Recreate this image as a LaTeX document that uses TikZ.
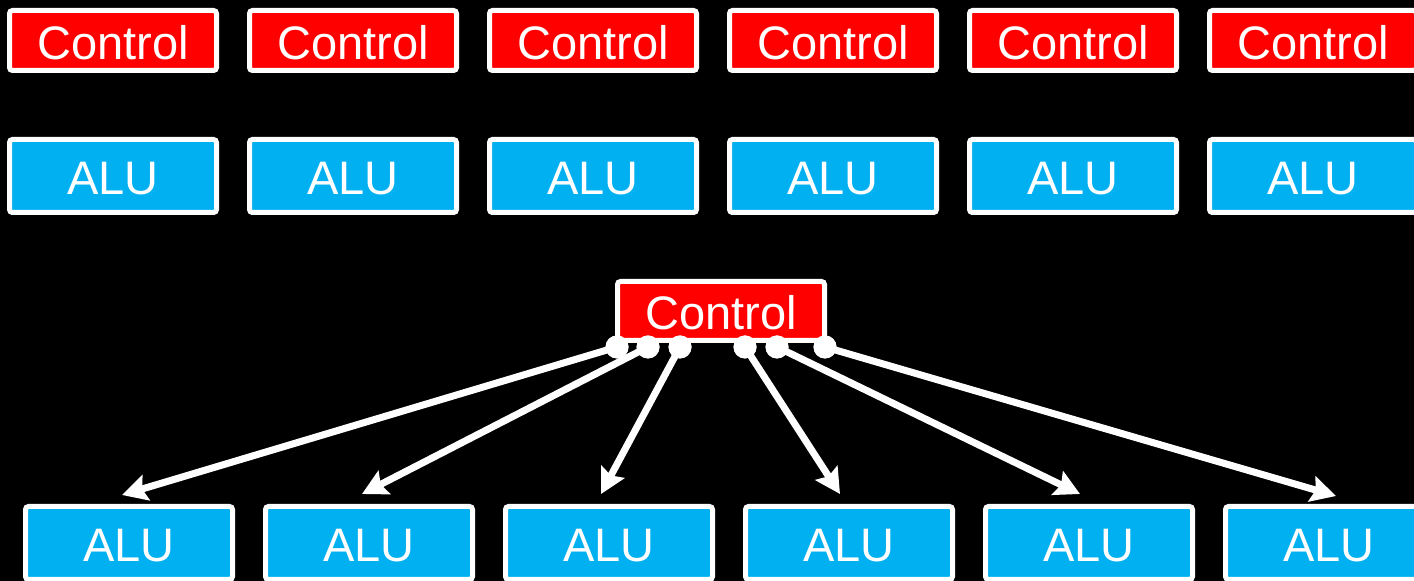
\documentclass[tikz,border=0pt]{standalone}
\usepackage{fontspec}
\setmainfont{Liberation Sans}
\usetikzlibrary{calc,arrows.meta}
\definecolor{ctrlred}{RGB}{255,0,0}
\definecolor{alublue}{RGB}{0,176,240}
\tikzset{
  unit/.style={rectangle, draw=white, line width=2.5pt, rounded corners=1.5pt,
    minimum width=103.5pt, text=white, inner sep=0pt, text height=19pt,
    font=\fontsize{23.5}{28}\selectfont},
  ctrlbox/.style={unit, fill=ctrlred, minimum height=30pt},
  alubox/.style={unit, fill=alublue, minimum height=36.5pt},
  port/.style={circle, fill=white, minimum size=11.5pt, inner sep=0pt},
  link/.style={draw=white, line width=3.5pt,
    -{Stealth[length=12.5pt,width=13pt,inset=2pt]}}
}
\begin{document}
\begin{tikzpicture}[x=0.5pt,y=-0.5pt]
  \fill[black] (0,0) rectangle (1414,581);
  \useasboundingbox (0,0) rectangle (1414,581);

  % independent control/ALU pairs
  \foreach \i in {1,...,6}{
    \node[ctrlbox] (c\i) at ({113+240*(\i-1)},40.5) {Control};
    \node[alubox]  (a\i) at ({113+240*(\i-1)},176) {ALU};
  }

  % shared control with its ALU array
  \node[ctrlbox, minimum height=29.5pt] (sc) at (721,311) {Control};
  \foreach \i in {1,...,6}{
    \node[alubox] (b\i) at ({129+240*(\i-1)},543) {ALU};
  }

  % ports on the shared control
  \node[port] (d1) at (617,347) {};
  \node[port] (d2) at (648,347) {};
  \node[port] (d3) at (680,347) {};
  \node[port] (d4) at (745,347) {};
  \node[port] (d5) at (777,347) {};
  \node[port] (d6) at (825,347) {};

  % arrow targets just above each ALU
  \coordinate (t1) at ($(b1.north)+(-7,-9)$);
  \coordinate (t2) at ($(b2.north)+(-7,-10)$);
  \coordinate (t3) at ($(b3.north)+(-8,-10)$);
  \coordinate (t4) at ($(b4.north)+(-9,-10)$);
  \coordinate (t5) at ($(b5.north)+(-9,-10)$);
  \coordinate (t6) at ($(b6.north)+(7,-8)$);

  \foreach \i in {1,...,6}{
    \draw[link] (d\i.center) -- (t\i);
  }
  \foreach \i in {1,...,6}{
    \node[port] at (d\i) {};
  }
\end{tikzpicture}
\end{document}
